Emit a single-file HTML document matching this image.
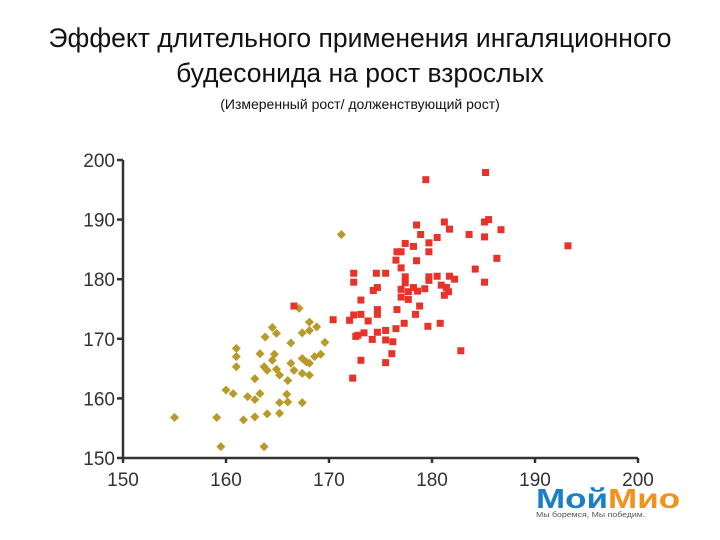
<!DOCTYPE html>
<html><head><meta charset="utf-8"><style>
body{margin:0;background:#fff;width:720px;height:540px;overflow:hidden;font-family:"Liberation Sans","DejaVu Sans",sans-serif}
.t{position:absolute;left:0;width:720px;text-align:center;color:#111}
</style></head><body>
<div class="t" style="top:23px;font-size:26.5px">Эффект длительного применения ингаляционного</div>
<div class="t" style="top:58px;font-size:26.5px">будесонида на рост взрослых</div>
<div class="t" style="top:96px;font-size:14px">(Измеренный рост/ долженствующий рост)</div>
<svg id="c" width="720" height="540" style="position:absolute;left:0;top:0"></svg>
<div style="position:absolute;left:536px;top:486px;width:156px;font-weight:900;font-size:28px;line-height:26px;transform:scaleX(1.25);transform-origin:left top;white-space:nowrap"><span style="color:#1a7fc8">Мой</span><span style="color:#f0921e">Мио</span><div style="font-size:7px;color:#555;font-weight:normal;line-height:8px">Мы боремся, Мы победим.</div></div>
<script>
const xTicks=[150,160,170,180,190,200];
const yTicks=[150,160,170,180,190,200];
const inhaledX=[155.0,159.1,159.5,163.7,161.7,162.8,164.0,165.2,165.2,166.0,167.4,160.0,160.7,162.1,162.8,163.3,165.9,161.0,161.0,161.0,162.8,163.7,164.0,164.9,165.2,166.0,163.3,163.8,164.5,164.9,164.5,164.7,166.3,166.3,166.6,167.1,167.4,168.1,168.1,168.8,167.4,167.8,168.1,168.6,169.2,169.6,167.4,168.1,171.2];
const inhaledY=[156.8,156.8,151.9,151.9,156.4,156.9,157.4,157.5,159.3,159.4,159.3,161.4,160.8,160.3,159.8,160.8,160.7,165.3,167.0,168.4,163.3,165.3,164.7,164.9,163.9,163.0,167.5,170.3,171.9,170.9,166.4,167.4,169.3,165.9,164.7,175.1,171.0,172.8,171.4,172.0,166.7,166.1,165.9,167.0,167.4,169.4,164.2,163.9,187.5];
const controlX=[179.4,185.2,178.5,178.9,181.2,181.7,185.1,185.5,186.7,183.6,185.1,193.2,177.4,178.2,179.7,180.5,179.7,176.6,177.0,176.5,177.0,178.5,186.3,184.2,185.1,172.4,172.4,174.6,175.5,177.4,177.4,179.7,180.5,181.7,182.2,179.7,174.3,174.7,177.0,177.0,177.7,177.7,178.2,178.6,179.3,180.9,181.4,181.2,181.6,173.1,174.7,174.7,176.6,178.8,178.4,170.4,172.0,172.4,173.1,173.8,177.3,179.6,180.8,172.6,173.4,174.7,175.5,176.5,174.2,175.5,176.2,176.1,173.1,175.5,182.8,172.3,166.6,172.8];
const controlY=[196.7,197.9,189.1,187.5,189.6,188.4,189.6,190.0,188.3,187.5,187.1,185.6,186.0,185.5,186.1,187.0,184.6,184.6,184.6,183.2,181.9,183.1,183.5,181.7,179.5,181.0,179.5,181.0,181.0,180.4,179.4,180.4,180.5,180.5,180.0,179.8,178.1,178.6,178.3,177.0,177.9,176.6,178.6,178.0,178.4,179.0,178.6,177.3,177.9,176.5,174.9,174.1,174.9,175.5,174.1,173.2,173.1,174.0,174.1,173.0,172.6,172.1,172.6,170.4,171.0,171.1,171.4,171.7,169.9,169.8,169.5,167.5,166.4,166.0,168.0,163.4,175.5,170.6];
const X0=123,X1=638,Y0=458,Y1=160;
const sx=v=>X0+(v-150)/50*(X1-X0);
const sy=v=>Y0-(v-150)/50*(Y0-Y1);
const svg=document.getElementById('c');const NS='http://www.w3.org/2000/svg';
function mk(t,a){const e=document.createElementNS(NS,t);for(const k in a)e.setAttribute(k,a[k]);svg.appendChild(e);return e;}
let e=mk('line',{x1:X0,y1:Y0,x2:X0,y2:Y1,stroke:'#333','stroke-width':2.5});


e=mk('line',{x1:X0,y1:Y0,x2:X1,y2:Y0,stroke:'#333','stroke-width':2.5});


xTicks.forEach(v=>{
  let l=mk('line',{x1:sx(v),y1:Y0,x2:sx(v),y2:Y0+5,stroke:'#333','stroke-width':2.5});
  
  
  let t=mk('text',{x:sx(v),y:Y0+28,'text-anchor':'middle','font-size':19,fill:'#333','font-family':'Liberation Sans, sans-serif'});
  t.textContent=v;
  
  
});
yTicks.forEach(v=>{
  let l=mk('line',{x1:X0-6,y1:sy(v),x2:X0,y2:sy(v),stroke:'#333','stroke-width':2.5});
  
  
  let t=mk('text',{x:X0-8,y:sy(v)+7,'text-anchor':'end','font-size':19,fill:'#333','font-family':'Liberation Sans, sans-serif'});
  t.textContent=v;
  
  
});
inhaledX.forEach((v,i)=>{
  const cx=sx(v),cy=sy(inhaledY[i]);
  let p=mk('polygon',{points:`${cx},${cy-4.5} ${cx+4.5},${cy} ${cx},${cy+4.5} ${cx-4.5},${cy}`,fill:'#b89a2a'});
  
  
});
controlX.forEach((v,i)=>{
  const cx=sx(v),cy=sy(controlY[i]);
  let r=mk('rect',{x:cx-3.5,y:cy-3.5,width:7,height:7,fill:'#e8322a'});
  
  
});
</script>
</body></html>
